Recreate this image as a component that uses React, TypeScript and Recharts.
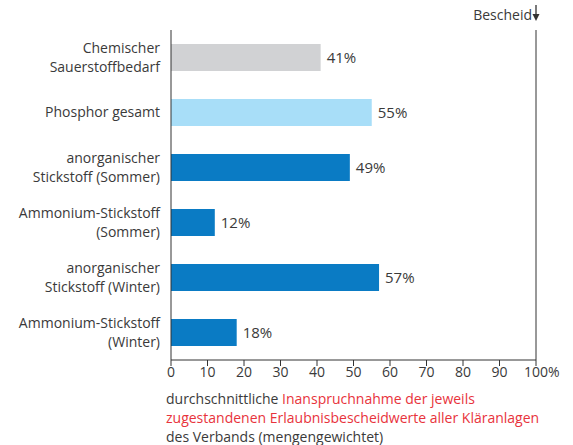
import { BarChart, Bar, XAxis, YAxis, Cell, LabelList, ReferenceLine } from "recharts";

const categories = [
  "Chemischer\nSauerstoffbedarf",
  "Phosphor gesamt",
  "anorganischer\nStickstoff (Sommer)",
  "Ammonium-Stickstoff\n(Sommer)",
  "anorganischer\nStickstoff (Winter)",
  "Ammonium-Stickstoff\n(Winter)",
];
const values = [41, 55, 49, 12, 57, 18];
const barColors = ["#d1d2d4", "#a8def8", "#0a7bc4", "#0a7bc4", "#0a7bc4", "#0a7bc4"];
const xTicks = [0, 10, 20, 30, 40, 50, 60, 70, 80, 90, 100];

const TEXT = "#3a3a3a";
const AXIS = "#333";
const FONT = "'Open Sans', sans-serif";

const data = categories.map((name, i) => ({ name, value: values[i] }));

// multi-line category label, right-aligned next to the axis
function CategoryTick({ x, y, payload }: any) {
  const lines = String(payload.value).split("\n");
  const lh = 19;
  const startY = y - ((lines.length - 1) * lh) / 2;
  return (
    <text x={x - 3} y={startY} textAnchor="end" fill={TEXT} fontSize={14} fontFamily={FONT}>
      {lines.map((l, i) => (
        <tspan key={i} x={x - 3} y={startY + i * lh} dy="0.35em">
          {l}
        </tspan>
      ))}
    </text>
  );
}

// percent sign only on the last tick, number stays centred on the tick
function ValueTick({ x, y, payload }: any) {
  const v = payload.value;
  if (v === 100) {
    return (
      <text x={x - 12} y={y + 9} textAnchor="start" fill={TEXT} fontSize={14} fontFamily={FONT}>
        100%
      </text>
    );
  }
  return (
    <text x={x} y={y + 9} textAnchor="middle" fill={TEXT} fontSize={14} fontFamily={FONT}>
      {v}
    </text>
  );
}

function BescheidLabel({ viewBox }: any) {
  const x = viewBox.x;
  const top = viewBox.y;
  return (
    <g>
      <text x={x - 4} y={top - 15} dy="0.35em" textAnchor="end" fill={TEXT} fontSize={14} fontFamily={FONT}>
        Bescheid
      </text>
      <line x1={x} x2={x} y1={top - 25} y2={top - 14} stroke={AXIS} strokeWidth={1.3} />
      <path d={`M${x - 3.5},${top - 16} L${x + 3.5},${top - 16} L${x},${top - 9} Z`} fill={AXIS} />
    </g>
  );
}

export default function App() {
  return (
    <div style={{ position: "absolute", left: 0, top: 0, width: 573, height: 445, background: "#fff" }}>
      <BarChart
        width={573}
        height={445}
        data={data}
        layout="vertical"
        barSize={27}
        margin={{ top: 30, right: 37, bottom: 55, left: 0 }}
      >
        <XAxis
          type="number"
          domain={[0, 100]}
          ticks={xTicks}
          interval={0}
          height={30}
          tick={<ValueTick />}
          tickSize={6}
          axisLine={{ stroke: AXIS }}
          tickLine={{ stroke: AXIS }}
        />
        <YAxis
          type="category"
          dataKey="name"
          width={171}
          tick={<CategoryTick />}
          tickLine={false}
          axisLine={{ stroke: AXIS }}
          interval={0}
        />
        <ReferenceLine x={100} stroke={AXIS} strokeWidth={1} label={<BescheidLabel />} />
        <Bar dataKey="value" isAnimationActive={false}>
          {data.map((_, i) => (
            <Cell key={i} fill={barColors[i]} />
          ))}
          <LabelList
            dataKey="value"
            position="right"
            offset={6}
            formatter={(v: any) => `${v}%`}
            fill={TEXT}
            fontSize={15}
            fontFamily={FONT}
          />
        </Bar>
      </BarChart>
      <div
        style={{
          position: "absolute",
          left: 166,
          top: 389,
          fontFamily: FONT,
          fontSize: 14,
          lineHeight: "19px",
          color: TEXT,
          whiteSpace: "nowrap",
        }}
      >
        durchschnittliche <span style={{ color: "#e8333c" }}>Inanspruchnahme der jeweils</span>
        <br />
        <span style={{ color: "#e8333c" }}>zugestandenen Erlaubnisbescheidwerte aller Kläranlagen</span>
        <br />
        des Verbands (mengengewichtet)
      </div>
    </div>
  );
}
